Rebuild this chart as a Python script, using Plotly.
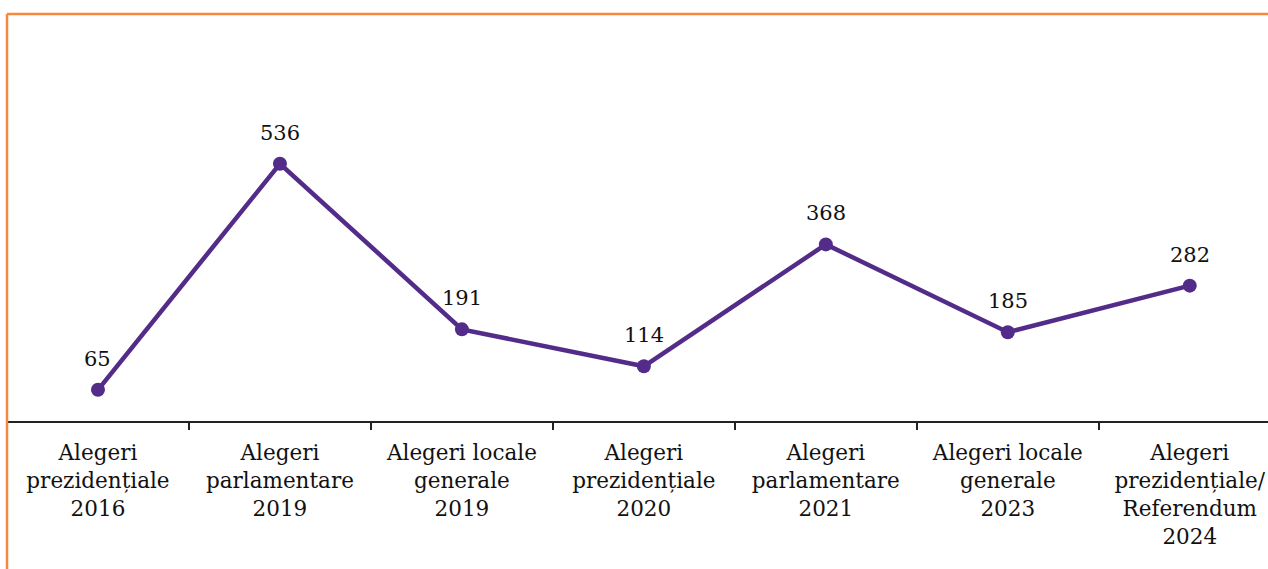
import plotly.graph_objects as go

categories = [
    "Alegeri<br>prezidențiale<br>2016",
    "Alegeri<br>parlamentare<br>2019",
    "Alegeri locale<br>generale<br>2019",
    "Alegeri<br>prezidențiale<br>2020",
    "Alegeri<br>parlamentare<br>2021",
    "Alegeri locale<br>generale<br>2023",
    "Alegeri<br>prezidențiale/<br>Referendum<br>2024",
]
values = [65, 536, 191, 114, 368, 185, 282]

PURPLE = "#532C8A"
ORANGE = "#F58A3C"
FONT = "DejaVu Serif"

fig = go.Figure(go.Scatter(
    x=categories, y=values, mode="lines+markers",
    line=dict(color=PURPLE, width=4.5),
    marker=dict(color=PURPLE, size=14),
    hoverinfo="skip",
))

# value labels above each point
for c, v in zip(categories, values):
    fig.add_annotation(x=c, y=v, text=str(v), showarrow=False, yshift=31,
                       font=dict(family=FONT, size=21, color="#111111"))

# orange frame (left + top)
fig.add_shape(type="line", xref="paper", yref="paper", x0=0, x1=0, y0=-148 / 407, y1=1,
              line=dict(color=ORANGE, width=2.5))
fig.add_shape(type="line", xref="paper", yref="paper", x0=0, x1=1.01, y0=1, y1=1,
              line=dict(color=ORANGE, width=2.5))

fig.update_layout(
    width=1268, height=569,
    margin=dict(l=7, r=0, t=14, b=148),
    paper_bgcolor="white", plot_bgcolor="white",
    showlegend=False,
    font=dict(family=FONT, size=21.5, color="#111111"),
    xaxis=dict(
        type="category", range=[-0.5, 6.43],
        showline=True, linecolor="#222222", linewidth=2,
        ticks="outside", tickson="boundaries", ticklen=7, tickwidth=2, tickcolor="#222222",
        ticklabelstandoff=11,
        showgrid=False, zeroline=False, fixedrange=True,
    ),
    yaxis=dict(range=[0, 848], visible=False, fixedrange=True),
)

fig.write_html("out.html", config={"displayModeBar": False},
               post_script="document.body.style.margin='0';")
